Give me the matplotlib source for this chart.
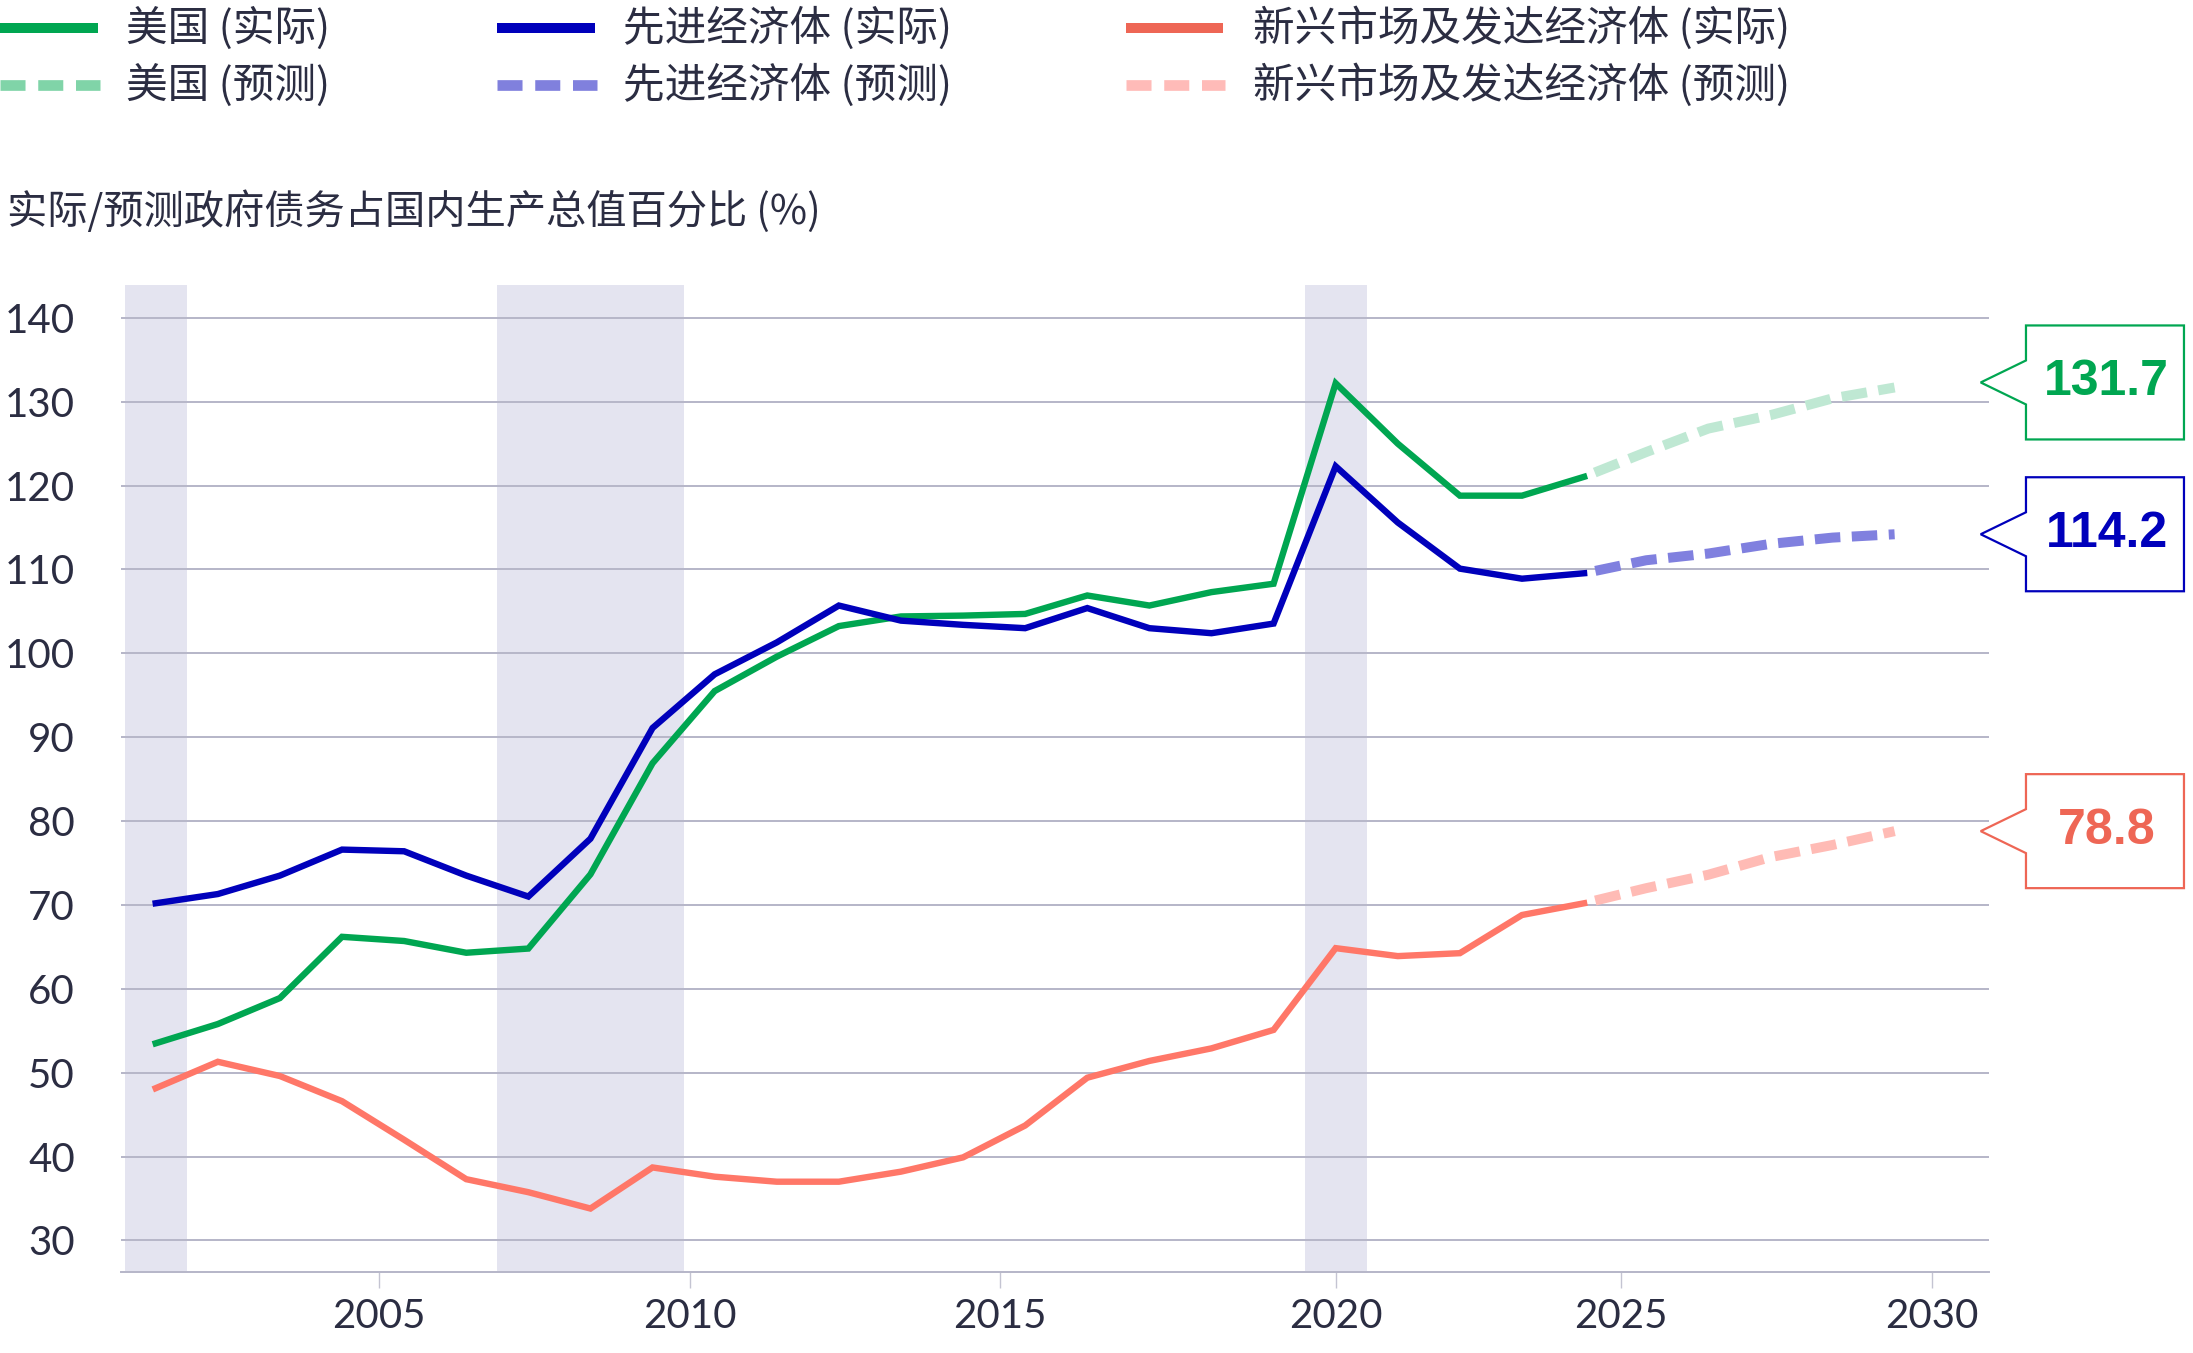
import matplotlib
matplotlib.use("Agg")
import matplotlib.pyplot as plt
from matplotlib.lines import Line2D
from matplotlib.patches import Polygon
from matplotlib.transforms import blended_transform_factory

# ---------------- data ----------------
years_actual = list(range(2001, 2025))
us_actual = [53.5, 55.8, 58.9, 66.2, 65.7, 64.3, 64.8, 73.65, 86.9, 95.5, 99.6, 103.25,
             104.4, 104.5, 104.7, 106.9, 105.7, 107.3, 108.3, 132.2, 125.0, 118.8, 118.8, 121.05]
adv_actual = [70.2, 71.3, 73.5, 76.6, 76.4, 73.5, 71.0, 77.9, 91.1, 97.5, 101.3, 105.7,
              103.9, 103.4, 103.0, 105.4, 103.0, 102.4, 103.55, 122.3, 115.6, 110.1, 108.9, 109.55]
em_actual = [48.15, 51.3, 49.6, 46.6, 42.0, 37.3, 35.75, 33.8, 38.7, 37.6, 37.0, 37.0,
             38.2, 39.9, 43.7, 49.4, 51.4, 52.9, 55.1, 64.85, 63.9, 64.25, 68.8, 70.2]

years_proj = list(range(2024, 2030))
us_proj = [121.05, 124.0, 126.8, 128.4, 130.4, 131.7]
adv_proj = [109.55, 111.1, 111.9, 113.05, 113.8, 114.2]
em_proj = [70.2, 72.0, 73.6, 75.7, 77.15, 78.8]

recession_start = [2001, 2007, 2020]
recession_end = [2001, 2009, 2020]

xtick_pos = [2004.6, 2009.6, 2014.6, 2020.0, 2024.6, 2029.6]
xtick_labels = ["2005", "2010", "2015", "2020", "2025", "2030"]
yticks = [30, 40, 50, 60, 70, 80, 90, 100, 110, 120, 130, 140]

legend_labels = ["美国 (实际)", "美国 (预测)",
                 "先进经济体 (实际)", "先进经济体 (预测)",
                 "新兴市场及发达经济体 (实际)", "新兴市场及发达经济体 (预测)"]
subtitle = "实际/预测政府债务占国内生产总值百分比 (%)"

# ---------------- styles ----------------
TXT = "#2B2D42"
GRID = "#B6B6C8"
BAND = "#E4E4F0"
c_us, c_us_p, c_us_pl = "#00A651", "#BFE8D3", "#80D4A8"
c_adv, c_adv_p, c_adv_pl = "#0000BB", "#8080DF", "#8080DD"
c_em, c_em_p, c_em_pl = "#FF7768", "#FFBBB5", "#FFBBB8"
c_em_lab = "#EE6655"

plt.rcParams['font.family'] = ['Lato', 'Noto Sans CJK SC', 'DejaVu Sans']
CJK = ['Noto Sans CJK SC', 'DejaVu Sans']

W, H = 2193, 1353
fig = plt.figure(figsize=(W / 100, H / 100), dpi=100)
ax = fig.add_axes([120.7 / W, (H - 1272.2) / H, (1989 - 120.7) / W, (1272.2 - 285) / H])

for s, e in zip(recession_start, recession_end):
    ax.axvspan(s - 0.5, e + 0.5, color=BAND, lw=0, zorder=0.2)

ax.set_xlim(2000.436, 2030.52)
ax.set_ylim(26.21, 143.92)
ax.set_axisbelow(True)
ax.set_yticks(yticks)
ax.grid(axis='y', color=GRID, lw=1.4)
ax.set_xticks(xtick_pos)
ax.set_xticklabels(xtick_labels)
for sp in ['top', 'left', 'right']:
    ax.spines[sp].set_visible(False)
ax.spines['bottom'].set_color(GRID)
ax.spines['bottom'].set_linewidth(1.4)
ax.tick_params(axis='x', length=11.5, width=1.0, color="#C4C4D2", pad=7,
               labelsize=29, labelcolor=TXT)
ax.tick_params(axis='y', length=0, pad=33, labelsize=29, labelcolor=TXT)

LW_S = 4.6
LW_D = 7.2
dash = (2.55, (2.55, 1.15))
ax.plot(years_proj, us_proj, color=c_us_p, lw=LW_D, ls=dash, dash_capstyle='butt', zorder=3)
ax.plot(years_proj, adv_proj, color=c_adv_p, lw=LW_D, ls=dash, dash_capstyle='butt', zorder=3)
ax.plot(years_proj, em_proj, color=c_em_p, lw=LW_D, ls=dash, dash_capstyle='butt', zorder=3)
ax.plot(years_actual, em_actual, color=c_em, lw=LW_S, zorder=4, solid_joinstyle='miter')
ax.plot(years_actual, us_actual, color=c_us, lw=LW_S, zorder=5, solid_joinstyle='miter')
ax.plot(years_actual, adv_actual, color=c_adv, lw=LW_S, zorder=6, solid_joinstyle='miter')

# ---------------- callouts ----------------
trans = blended_transform_factory(ax.transAxes, ax.transData)
ppu = (1272.2 - 285) / (143.92 - 26.21)
hh = 57 / ppu
ph = 22 / ppu
x_tip, x_l, x_r, x_t = 0.99556, 1.01979, 1.10436, 1.0629
for v, col in [(us_proj[-1], c_us), (adv_proj[-1], c_adv), (em_proj[-1], c_em_lab)]:
    yc = v + 0.6 if col == c_us else v
    verts = [(x_tip, yc), (x_l, yc + ph), (x_l, yc + hh), (x_r, yc + hh),
             (x_r, yc - hh), (x_l, yc - hh), (x_l, yc - ph)]
    poly = Polygon(verts, closed=True, transform=trans, clip_on=False,
                   facecolor='white', edgecolor=col, lw=1.6, zorder=10)
    ax.add_patch(poly)
    ax.text(x_t, yc, f"{v:.1f}", transform=trans, ha='center', va='center',
            fontsize=36, fontweight='bold', color=col,
            family=['Liberation Sans', 'DejaVu Sans'], clip_on=False, zorder=11)

# ---------------- legend ----------------
def fx(px):
    return px / W

def fy(py):
    return 1 - py / H

leg = [
    (0, 98, 126, 28, c_us, False, legend_labels[0]),
    (0, 100, 126, 85, c_us_pl, True, legend_labels[1]),
    (496.7, 595, 623, 28, c_adv, False, legend_labels[2]),
    (496.7, 597, 623, 85, c_adv_pl, True, legend_labels[3]),
    (1125.5, 1223, 1253.4, 28, "#EE6655", False, legend_labels[4]),
    (1125.5, 1225, 1253.4, 85, c_em_pl, True, legend_labels[5]),
]
for x0, x1, xt, yy, col, dashed, lab in leg:
    if dashed:
        ln = Line2D([fx(x0), fx(x1)], [fy(yy), fy(yy)], transform=fig.transFigure,
                    color=col, lw=7.7, ls=(0, (2.34, 1.19)), dash_capstyle='butt')
    else:
        ln = Line2D([fx(x0), fx(x1)], [fy(yy), fy(yy)], transform=fig.transFigure,
                    color=col, lw=7.2, solid_capstyle='butt')
    fig.add_artist(ln)
    fig.text(fx(xt), fy(yy), lab, ha='left', va='center', fontsize=30,
             color=TXT, family=CJK)

fig.text(fx(7), fy(212), subtitle, ha='left', va='center', fontsize=29,
         color=TXT, family=CJK)

fig.savefig("out.png", dpi=100)
